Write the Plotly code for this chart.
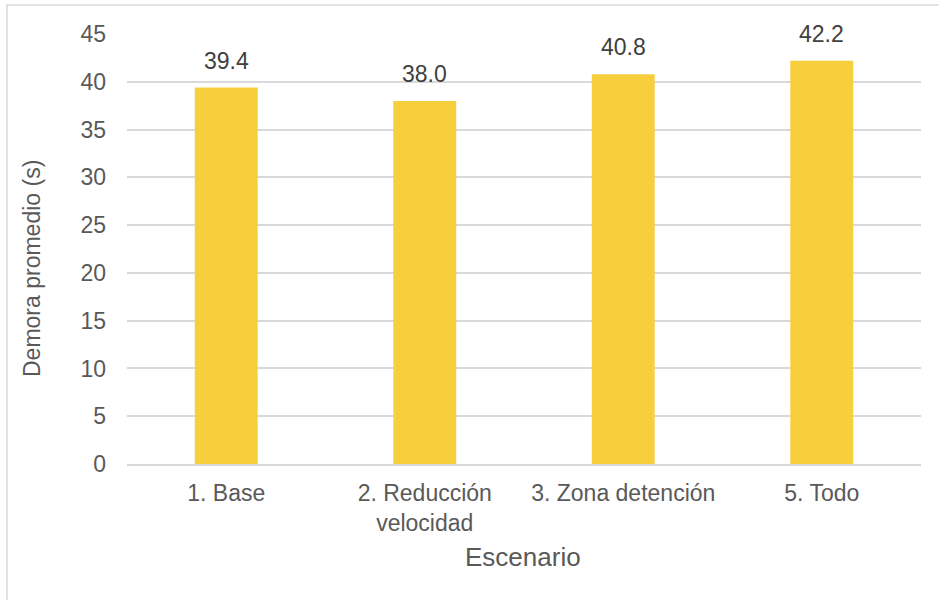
import plotly.graph_objects as go

escenarios = ["1. Base", "2. Reducción<br>velocidad", "3. Zona detención", "5. Todo"]
demora = [39.4, 38.0, 40.8, 42.2]
y_ticks = [0, 5, 10, 15, 20, 25, 30, 35, 40, 45]

W, H = 939, 600
L, R, T, B = 127, 18, 34, 136
pw, ph = W - L - R, H - T - B
FONT = "Liberation Sans, Arial"
GREY = "#595959"


def px_x(p):
    return (p - L) / pw


def px_y(p):
    return 1 - (p - T) / ph


fig = go.Figure()
fig.add_trace(go.Bar(
    x=escenarios, y=demora,
    marker=dict(color="#F7CF3D", line=dict(width=0)),
    width=0.317,
    hoverinfo="x+y",
))

# value labels above each bar
for c, v in zip(escenarios, demora):
    fig.add_annotation(
        x=c, y=v, text=f"{v:.1f}", showarrow=False,
        yanchor="bottom", yshift=12,
        font=dict(family=FONT, size=23, color="#404040"),
    )

# axis titles
fig.add_annotation(
    xref="paper", yref="paper", x=px_x(32), y=px_y(269),
    text="Demora promedio (s)", textangle=-90, showarrow=False,
    xanchor="center", yanchor="middle",
    font=dict(family=FONT, size=23, color=GREY),
)
fig.add_annotation(
    xref="paper", yref="paper", x=px_x(523), y=px_y(557),
    text="Escenario", showarrow=False,
    xanchor="center", yanchor="middle",
    font=dict(family=FONT, size=26, color=GREY),
)

# outer chart frame
fig.add_shape(type="rect", xref="paper", yref="paper",
              x0=px_x(7), x1=px_x(945), y0=px_y(5), y1=px_y(606),
              line=dict(color="#D9D9D9", width=1.5), fillcolor="rgba(0,0,0,0)",
              layer="below")

fig.update_layout(
    width=W, height=H,
    margin=dict(l=L, r=R, t=T, b=B, pad=0),
    paper_bgcolor="white", plot_bgcolor="white",
    font=dict(family=FONT, size=23, color=GREY),
    showlegend=False,
    xaxis=dict(
        showgrid=False, showline=True, linecolor="#D9D9D9", linewidth=1.5,
        ticks="", tickfont=dict(size=23, color=GREY),
        ticklabelstandoff=8,
    ),
    yaxis=dict(
        range=[0, 45], tickvals=y_ticks, showgrid=True, gridcolor="#D9D9D9", gridwidth=1.5,
        zeroline=False, showline=False, ticks="",
        tickfont=dict(size=23, color=GREY),
        ticklabelstandoff=20,
    ),
)

fig.write_html("out.html")
